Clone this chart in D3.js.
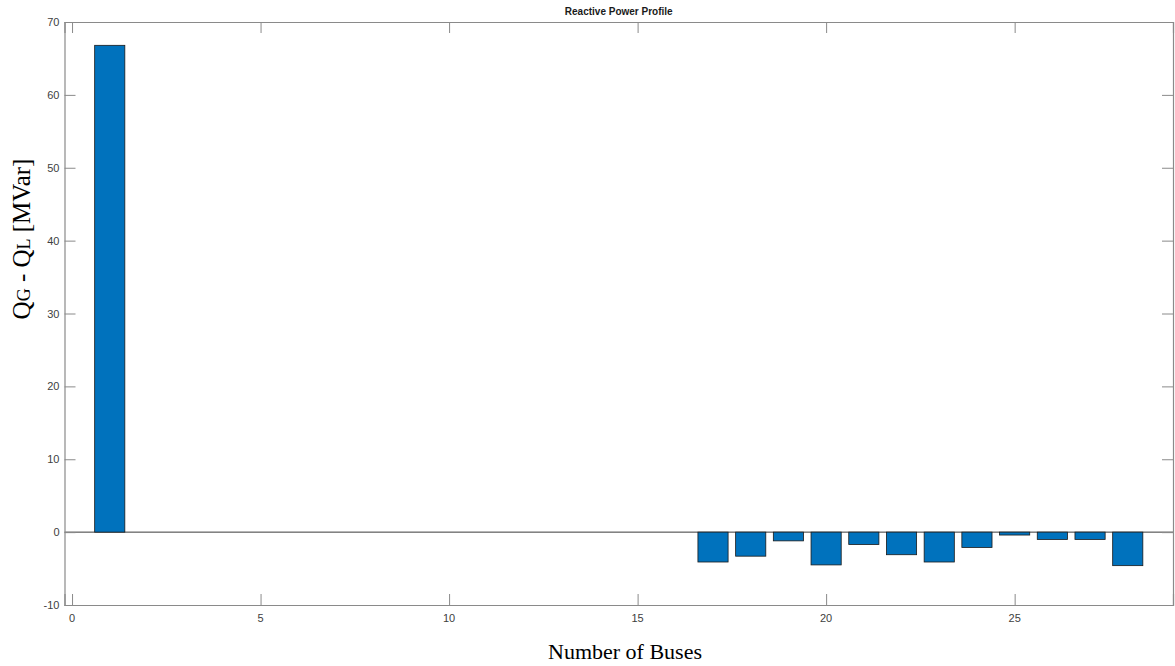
<!DOCTYPE html>
<html>
<head>
<meta charset="utf-8">
<script src="https://cdn.jsdelivr.net/npm/d3@7"></script>
<style>
  body { margin: 0; background: #fff; }
  svg { display: block; }
</style>
</head>
<body>
<svg id="chart" width="1175" height="666"></svg>
<script>
// bus numbers and Qg - Ql per bus (MVar)
const buses = d3.range(1, 29);
const qValues = [66.8, 0, 0, 0, 0, 0, 0, 0, 0, 0, 0, 0, 0, 0, 0, 0,
  -4.1, -3.3, -1.2, -4.5, -1.7, -3.1, -4.1, -2.1, -0.4, -1.0, -1.0, -4.6];
const xTicks = [0, 5, 10, 15, 20, 25];
const yTicks = [-10, 0, 10, 20, 30, 40, 50, 60, 70];

const width = 1175, height = 666;
const margin = { top: 22, right: 2, bottom: 61, left: 64.5 };

const svg = d3.select("#chart");

const x = d3.scaleLinear()
  .domain([-0.2, 29.2])
  .range([margin.left, width - margin.right]);

const y = d3.scaleLinear()
  .domain([-10, 70])
  .range([height - margin.bottom, margin.top]);

const data = buses.map((b, i) => ({ bus: b, q: qValues[i] }));
const barW = x(0.8) - x(0);

// baseline
svg.append("line")
  .attr("x1", x.range()[0]).attr("x2", x.range()[1])
  .attr("y1", y(0)).attr("y2", y(0))
  .attr("stroke", "#3a3a3a")
  .attr("stroke-width", 1);

// bars (zero-height ones show up as short gray dashes on the baseline)
svg.append("g")
  .selectAll("rect")
  .data(data)
  .join("rect")
  .attr("x", d => x(d.bus - 0.4))
  .attr("y", d => y(Math.max(0, d.q)))
  .attr("width", barW)
  .attr("height", d => Math.abs(y(d.q) - y(0)))
  .attr("fill", "#0072BD")
  .attr("stroke", d => d.q === 0 ? "#6a6a6a" : "#1a1a1a")
  .attr("stroke-width", d => d.q === 0 ? 1.6 : 0.8);

// axes (ticks inward, box on)
const tickLen = 11;
const axisColor = "#8a8a8a";

const axBottom = svg.append("g")
  .attr("transform", `translate(0,${height - margin.bottom})`)
  .call(d3.axisTop(x).tickValues(xTicks).tickSize(tickLen).tickFormat(""));

const axTop = svg.append("g")
  .attr("transform", `translate(0,${margin.top})`)
  .call(d3.axisBottom(x).tickValues(xTicks).tickSize(tickLen).tickFormat(""));

const axLeft = svg.append("g")
  .attr("transform", `translate(${margin.left},0)`)
  .call(d3.axisRight(y).tickValues(yTicks).tickSize(tickLen).tickFormat(""));

const axRight = svg.append("g")
  .attr("transform", `translate(${width - margin.right},0)`)
  .call(d3.axisLeft(y).tickValues(yTicks).tickSize(tickLen).tickFormat(""));

[axBottom, axTop, axLeft, axRight].forEach(g => {
  g.select(".domain").attr("stroke", axisColor).attr("stroke-width", 1.2);
  g.selectAll(".tick line").attr("stroke", axisColor);
});

// tick labels
svg.append("g")
  .selectAll("text")
  .data(xTicks)
  .join("text")
  .attr("x", d => x(d))
  .attr("y", height - margin.bottom + 17)
  .attr("text-anchor", "middle")
  .attr("font-family", "Liberation Sans, Arial, sans-serif")
  .attr("font-size", 11)
  .attr("fill", "#404040")
  .text(d => d);

svg.append("g")
  .selectAll("text")
  .data(yTicks)
  .join("text")
  .attr("x", margin.left - 5)
  .attr("y", d => y(d) + 4)
  .attr("text-anchor", "end")
  .attr("font-family", "Liberation Sans, Arial, sans-serif")
  .attr("font-size", 11)
  .attr("fill", "#404040")
  .text(d => d);

// title
svg.append("text")
  .attr("x", (x.range()[0] + x.range()[1]) / 2)
  .attr("y", 15)
  .attr("text-anchor", "middle")
  .attr("font-family", "Liberation Sans, Arial, sans-serif")
  .attr("font-size", 10)
  .attr("font-weight", "bold")
  .attr("fill", "#1a1a1a")
  .text("Reactive Power Profile");

// x label
svg.append("text")
  .attr("x", 625)
  .attr("y", 659)
  .attr("text-anchor", "middle")
  .attr("font-family", "Liberation Serif, Times New Roman, serif")
  .attr("font-size", 22)
  .attr("fill", "#000")
  .text("Number of Buses");

// y label
const yl = svg.append("text")
  .attr("transform", "translate(30,239) rotate(-90)")
  .attr("text-anchor", "middle")
  .attr("font-family", "Liberation Serif, Times New Roman, serif")
  .attr("font-size", 25)
  .attr("fill", "#000");
yl.append("tspan").text("Q");
yl.append("tspan").attr("font-size", 18).text("G");
yl.append("tspan").text(" - Q");
yl.append("tspan").attr("font-size", 18).text("L");
yl.append("tspan").text(" [MVar]");
</script>
</body>
</html>
